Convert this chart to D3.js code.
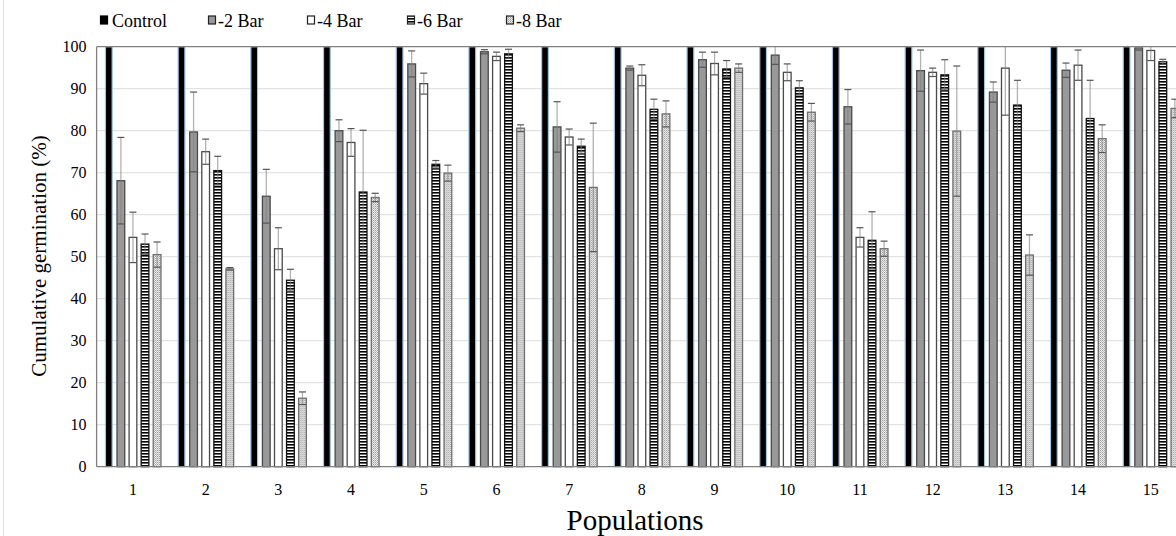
<!DOCTYPE html>
<html>
<head>
<meta charset="utf-8">
<script src="https://cdn.jsdelivr.net/npm/d3@7"></script>
<style>
  body { margin: 0; background: #fff; }
  svg text { font-family: "Liberation Serif", "Times New Roman", serif !important; }
</style>
</head>
<body>
<script>
// data
var populations = ["1","2","3","4","5","6","7","8","9","10","11","12","13","14","15"];
var series = ["Control", "-2 Bar", "-4 Bar", "-6 Bar", "-8 Bar"];
var control = [100,100,100,100,100,100,100,100,100,100,100,100,100,100,100];
var bar2 = [68.1, 79.7, 64.4, 80.0, 95.9, 98.8, 80.9, 94.9, 96.9, 98.0, 85.7, 94.3, 89.2, 94.4, 99.7];
var bar4 = [54.6, 75.0, 51.9, 77.2, 91.2, 97.7, 78.5, 93.2, 96.0, 93.9, 54.6, 93.9, 94.9, 95.6, 99.1];
var bar6 = [53.0, 70.5, 44.4, 65.4, 72.0, 98.3, 76.3, 85.1, 94.7, 90.2, 53.9, 93.3, 86.1, 82.9, 96.4];
var bar8 = [50.5, 47.1, 16.3, 64.1, 69.9, 80.6, 66.5, 84.0, 94.9, 84.4, 51.9, 79.9, 50.4, 78.1, 85.3];
var err2 = [10.3, 9.5, 6.4, 2.6, 3.1, 0.5, 6.0, 0.5, 1.8, 2.2, 4.1, 4.9, 2.4, 1.7, 0.5];
var err4 = [6.0, 3.0, 5.0, 3.3, 2.5, 1.0, 1.9, 2.5, 2.7, 2.0, 2.3, 1.0, 11.2, 3.6, 2.4];
var err6 = [2.4, 3.4, 2.6, 14.7, 0.9, 1.1, 1.7, 2.4, 2.0, 1.7, 6.8, 3.6, 5.9, 9.1, 0.6];
var err8 = [3.0, 0.3, 1.5, 1.0, 1.9, 0.8, 15.3, 3.1, 1.0, 2.1, 1.8, 15.5, 4.8, 3.3, 2.2];
var yTicks = [0,10,20,30,40,50,60,70,80,90,100];

var values = [control, bar2, bar4, bar6, bar8];
var errors = [null, err2, err4, err6, err8];

var width = 1176, height = 536;
var plotLeft = 96.6, plotTop = 46.7, plotBottom = 466.7;
var step = 72.7;

var svg = d3.select("body").append("svg")
  .attr("width", width)
  .attr("height", height)
  .style("display", "block");

var defs = svg.append("defs");
// horizontal stripes for -6 Bar
var p6 = defs.append("pattern").attr("id", "stripes")
  .attr("patternUnits", "userSpaceOnUse").attr("width", 4).attr("height", 3);
p6.append("rect").attr("width", 4).attr("height", 3).attr("fill", "#fff");
p6.append("rect").attr("width", 4).attr("height", 1.6).attr("fill", "#000");
// dots for -8 Bar
var p8 = defs.append("pattern").attr("id", "dots")
  .attr("patternUnits", "userSpaceOnUse").attr("width", 2).attr("height", 2);
p8.append("rect").attr("width", 2).attr("height", 2).attr("fill", "#eeeeee");
p8.append("rect").attr("width", 1).attr("height", 1).attr("fill", "#9a9a9a");
p8.append("rect").attr("x", 1).attr("y", 1).attr("width", 1).attr("height", 1).attr("fill", "#bdbdbd");

var styles = [
  { fill: "#000", stroke: "#9dc3e6" },
  { fill: "#999999", stroke: "#4a4a4a" },
  { fill: "#fff", stroke: "#4a4a4a" },
  { fill: "url(#stripes)", stroke: "#111" },
  { fill: "url(#dots)", stroke: "#6e6e6e" }
];

var x = d3.scaleBand()
  .domain(populations)
  .range([plotLeft, plotLeft + step * populations.length])
  .padding(0);

var xs = d3.scaleBand()
  .domain(series)
  .range([-28, 28])
  .paddingInner(0.36);

var y = d3.scaleLinear()
  .domain([0, 100])
  .range([plotBottom, plotTop]);

// faint frame line at the far left
svg.append("line")
  .attr("x1", 3.5).attr("x2", 3.5).attr("y1", 0).attr("y2", height)
  .attr("stroke", "#e3e3e3");

// gridlines
svg.append("g").selectAll("line")
  .data(yTicks.filter(function (d) { return d > 0 && d < 100; }))
  .enter().append("line")
  .attr("x1", plotLeft).attr("x2", width)
  .attr("y1", function (d) { return y(d); })
  .attr("y2", function (d) { return y(d); })
  .attr("stroke", "#dcdcdc");

// bars
var groups = svg.append("g").selectAll("g")
  .data(populations)
  .enter().append("g")
  .attr("transform", function (d) { return "translate(" + (x(d) + x.bandwidth() / 2) + ",0)"; });

series.forEach(function (s, k) {
  groups.append("rect")
    .attr("x", function (d) { return xs(s) + (k === 0 ? 0.5 : 0); })
    .attr("width", xs.bandwidth() - (k === 0 ? 1 : 0))
    .attr("y", function (d, i) { return y(values[k][i]); })
    .attr("height", function (d, i) { return y(0) - y(values[k][i]); })
    .attr("fill", styles[k].fill)
    .attr("stroke", styles[k].stroke)
    .attr("stroke-width", k === 0 ? 1.2 : 1.3);
});

// error bars
series.forEach(function (s, k) {
  if (!errors[k]) return;
  var cx = xs(s) + xs.bandwidth() / 2;
  var eb = groups.append("g");
  eb.append("line")
    .attr("x1", cx).attr("x2", cx)
    .attr("y1", function (d, i) { return y(Math.max(0, values[k][i] - errors[k][i])); })
    .attr("y2", function (d, i) { return y(Math.min(100, values[k][i] + errors[k][i])); })
    .attr("stroke", "#7f7f7f")
    .attr("stroke-opacity", 0.6)
    .attr("stroke-width", 1.3);
  [-1, 1].forEach(function (sgn) {
    var endY = function (d, i) {
      var v = values[k][i] + sgn * errors[k][i];
      return y(Math.max(0, Math.min(100, v)));
    };
    eb.append("line")
      .attr("x1", cx - 3.5).attr("x2", cx + 3.5)
      .attr("y1", endY)
      .attr("y2", endY)
      .attr("stroke", "#555")
      .attr("stroke-width", 1.2)
      .attr("display", function (d, i) {
        var v = values[k][i] + sgn * errors[k][i];
        return (v > 100 || v < 0) ? "none" : null;
      });
  });
});

// plot frame
svg.append("line")
  .attr("x1", plotLeft).attr("x2", width).attr("y1", plotTop).attr("y2", plotTop)
  .attr("stroke", "#808080").attr("stroke-width", 1.3);
svg.append("line")
  .attr("x1", plotLeft).attr("x2", width).attr("y1", plotBottom).attr("y2", plotBottom)
  .attr("stroke", "#808080").attr("stroke-width", 1.3);
svg.append("line")
  .attr("x1", plotLeft).attr("x2", plotLeft).attr("y1", plotTop).attr("y2", plotBottom)
  .attr("stroke", "#808080").attr("stroke-width", 1.3);

// y axis labels
var yAxis = d3.axisLeft(y).tickValues(yTicks).tickSize(0).tickPadding(10);
var ya = svg.append("g").attr("transform", "translate(" + plotLeft + ",0)").call(yAxis);
ya.select(".domain").remove();
ya.attr("font-size", 16);
ya.selectAll("text").attr("fill", "#000");

// x axis labels
var xAxis = d3.axisBottom(x).tickSize(0).tickPadding(17);
var xa = svg.append("g").attr("transform", "translate(0," + plotBottom + ")").call(xAxis);
xa.select(".domain").remove();
xa.attr("font-size", 16);
xa.selectAll("text").attr("fill", "#000");

// axis titles
svg.append("text")
  .attr("transform", "translate(46,256) rotate(-90)")
  .attr("text-anchor", "middle")
  .attr("font-size", 21)
  .text("Cumulative germination (%)");

svg.append("text")
  .attr("x", 635).attr("y", 530)
  .attr("text-anchor", "middle")
  .attr("font-size", 29)
  .text("Populations");

// legend
var legendX = [100, 208, 307, 407, 506];
var legend = svg.append("g").selectAll("g")
  .data(series)
  .enter().append("g")
  .attr("transform", function (d, i) { return "translate(" + legendX[i] + ",15)"; });
legend.append("rect")
  .attr("x", 0.5).attr("y", 1)
  .attr("width", 7).attr("height", 8)
  .attr("fill", function (d, i) { return i === 0 ? "#000" : styles[i].fill; })
  .attr("stroke", function (d, i) { return i === 0 ? "#000" : "#222"; })
  .attr("stroke-width", 1.2);
legend.append("text")
  .attr("x", function (d, i) { return i === 0 ? 12 : 10; })
  .attr("y", 11.5)
  .attr("font-size", 18)
  .text(function (d) { return d; });
</script>
</body>
</html>
